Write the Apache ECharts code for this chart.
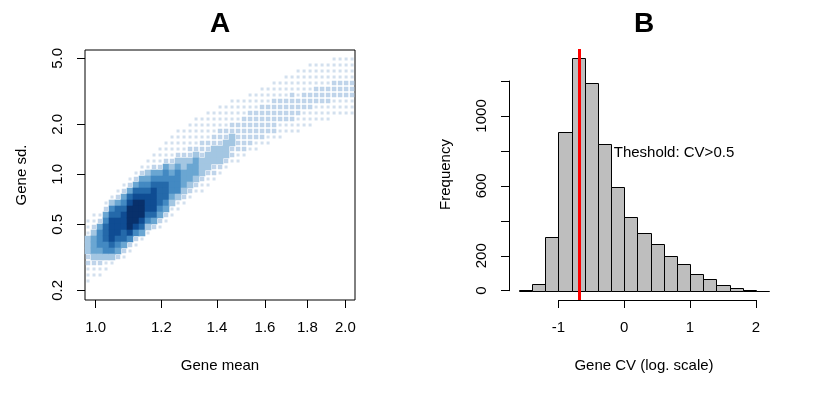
<!DOCTYPE html>
<html>
<head>
<meta charset="utf-8">
<script src="https://cdn.jsdelivr.net/npm/echarts@6/dist/echarts.min.js"></script>
<style>
  html, body { margin: 0; padding: 0; background: #fff; }
  #chart { width: 821px; height: 395px; }
</style>
</head>
<body>
<div id="chart"></div>
<script>
// ---- panel A : gene mean vs gene sd, both on log10, density binned into cells
var gridX0 = -0.0129, gridDx = 0.007236;   // log10(mean) of left edge, cell width
var gridY1 = 0.749, gridDy = 0.036153;     // log10(sd) of top edge, cell height
// one entry per column (left -> right): [first row from top, density levels going down]
var densityCols = [
  [28, '11133322111'],
  [27, '11234443211'],
  [27, '12455543211'],
  [25, '124566655311'],
  [24, '135677776531'],
  [23, '124667776542'],
  [22, '1245677766421'],
  [21, '1246788887521'],
  [20, '1246788887521'],
  [19, '1245678887641'],
  [18, '1134567776531'],
  [17, '1124567777642'],
  [16, '11124566665421'],
  [15, '11124556665421'],
  [14, '11112345554311'],
  [13, '11112345555311'],
  [13, '1111233444321'],
  [12, '1111223444321'],
  [11, '1111123444321'],
  [11, '1111222333211'],
  [10, '1111122333211'],
  [10, '111122333221'],
  [9, '111122233321'],
  [9, '11112233321'],
  [8, '11112233221'],
  [8, '11112222211'],
  [8, '1112222221'],
  [7, '1112222221'],
  [7, '1112222211'],
  [6, '1112222221'],
  [6, '1112222211'],
  [5, '1112222221'],
  [5, '1112222111'],
  [4, '1111222211'],
  [4, '1112222211'],
  [3, '11111222111'],
  [3, '1111222111'],
  [2, '11111222111'],
  [2, '1111222111'],
  [2, '1111222111'],
  [2, '1111222111'],
  [1, '1111222111'],
  [1, '1111222111'],
  [1, '1111222111'],
  [1, '1111222111']
];
var meanTicks = [1.0, 1.2, 1.4, 1.6, 1.8, 2.0];
var sdTicks = [0.2, 0.5, 1, 2, 5];

// ---- panel B : histogram of log CV
var cvBreaks = [-1.6, -1.4, -1.2, -1.0, -0.8, -0.6, -0.4, -0.2, 0, 0.2, 0.4, 0.6, 0.8, 1.0, 1.2, 1.4, 1.6, 1.8, 2.0, 2.2];
var cvCounts = [6, 39, 310, 906, 1330, 1187, 837, 596, 419, 332, 269, 200, 154, 96, 69, 33, 17, 5, 0];
var freqTicks = [0, 200, 400, 600, 800, 1000, 1200];
var freqLabels = [0, 200, 600, 1000];
var cvTicks = [-1, 0, 1, 2];
var cvCutoff = Math.log(0.5);
var cutoffText = 'Theshold: CV>0.5';
var cutoffTextAt = [-0.16, 790];

var levelColors = [null, '#d3e0ee', '#bfd4ea', '#a3c6e2', '#6aa6d2', '#4389c2', '#2469aa', '#0f4c93', '#08306b'];
var levelSize = [0, 3, 4.5, 6.6, 6.6, 6.6, 6.6, 6.6, 6.6];
var FONT = '"Liberation Sans", Arial, sans-serif';

var cells = [];
densityCols.forEach(function (col, c) {
  var levels = col[1];
  for (var k = 0; k < levels.length; k++) {
    var v = +levels[k];
    if (!v) continue;
    var r = col[0] + k;
    cells.push([gridX0 + (c + 0.5) * gridDx, gridY1 - (r + 0.5) * gridDy, v]);
  }
});
var bins = cvCounts.map(function (n, i) { return [cvBreaks[i], cvBreaks[i + 1], n]; });
var log10 = function (v) { return Math.log(v) / Math.LN10; };

var txt = { color: '#000', fontSize: 15, fontFamily: FONT };
var hidden = { axisLine: { show: false }, axisTick: { show: false }, axisLabel: { show: false }, splitLine: { show: false } };

var myChart = echarts.init(document.getElementById('chart'));
var option = {
  backgroundColor: '#fff',
  animation: false,
  textStyle: { fontFamily: FONT },
  grid: [
    { left: 85, top: 50, width: 270, height: 250, show: true, borderColor: '#000', borderWidth: 1, backgroundColor: 'transparent' },
    { left: 509, top: 49, width: 270, height: 251 },
    { left: 509, top: 81, width: 270, height: 209.7 },
    { left: 558.5, top: 250, width: 197.3, height: 50 }
  ],
  xAxis: [
    {
      gridIndex: 0, type: 'value', min: -0.0129, max: 0.3126,
      axisLine: { show: false, onZero: false }, splitLine: { show: false },
      axisTick: { customValues: meanTicks.map(log10), length: 8, lineStyle: { color: '#000' } },
      axisLabel: { customValues: meanTicks.map(log10), margin: 20, formatter: function (v) { return Math.pow(10, v).toFixed(1); }, color: '#000', fontSize: 15, fontFamily: FONT },
      name: 'Gene mean', nameLocation: 'middle', nameGap: 58, nameTextStyle: txt
    },
    Object.assign({ gridIndex: 1, type: 'value', min: -1.752, max: 2.352,
      name: 'Gene CV (log. scale)', nameLocation: 'middle', nameGap: 58, nameTextStyle: txt }, hidden, { axisLine: { show: false, onZero: false } }),
    Object.assign({ gridIndex: 2, type: 'value', min: 0, max: 1, show: false }, hidden),
    {
      gridIndex: 3, type: 'value', min: -1, max: 2, interval: 1,
      axisLine: { onZero: false, lineStyle: { color: '#000', width: 1 } }, splitLine: { show: false },
      axisTick: { customValues: cvTicks, length: 8, lineStyle: { color: '#000' } },
      axisLabel: { customValues: cvTicks, margin: 20, color: '#000', fontSize: 15, fontFamily: FONT }
    }
  ],
  yAxis: [
    {
      gridIndex: 0, type: 'value', min: -0.7574, max: 0.749,
      axisLine: { show: false, onZero: false }, splitLine: { show: false },
      axisTick: { customValues: sdTicks.map(log10), length: 8, lineStyle: { color: '#000' } },
      axisLabel: { customValues: sdTicks.map(log10), rotate: 90, margin: 20, formatter: function (v) { return Math.pow(10, v).toFixed(1); }, color: '#000', fontSize: 15, fontFamily: FONT },
      name: 'Gene sd.', nameLocation: 'middle', nameGap: 56, nameRotate: 90, nameTextStyle: txt
    },
    Object.assign({ gridIndex: 1, type: 'value', min: -53.2, max: 1383.2,
      name: 'Frequency', nameLocation: 'middle', nameGap: 56, nameRotate: 90, nameTextStyle: txt }, hidden, { axisLine: { show: false, onZero: false } }),
    {
      gridIndex: 2, type: 'value', min: 0, max: 1200, interval: 200,
      axisLine: { show: true, onZero: false, lineStyle: { color: '#000', width: 1 } }, splitLine: { show: false },
      axisTick: { customValues: freqTicks, length: 8, lineStyle: { color: '#000' } },
      axisLabel: { customValues: freqLabels, rotate: 90, margin: 20, formatter: function (v) { return String(v); }, color: '#000', fontSize: 15, fontFamily: FONT }
    },
    Object.assign({ gridIndex: 3, type: 'value', min: 0, max: 1, show: false }, hidden)
  ],
  series: [
    {
      type: 'scatter', xAxisIndex: 0, yAxisIndex: 0, silent: true,
      symbol: 'rect',
      symbolSize: function (val) { return levelSize[val[2]]; },
      itemStyle: { opacity: 1, color: function (p) { return levelColors[p.value[2]]; } },
      data: cells
    },
    {
      type: 'custom', xAxisIndex: 1, yAxisIndex: 1, silent: true,
      data: bins,
      renderItem: function (params, api) {
        var p0 = api.coord([api.value(0), 0]);
        var p1 = api.coord([api.value(1), api.value(2)]);
        var x0 = Math.round(p0[0]) + 0.5, x1 = Math.round(p1[0]) + 0.5;
        var yb = Math.round(p0[1]) + 0.5, yt = Math.round(p1[1]) + 0.5;
        return {
          type: 'rect',
          shape: { x: x0, y: yt, width: x1 - x0, height: yb - yt },
          style: { fill: '#bebebe', stroke: '#000', lineWidth: 1 }
        };
      },
      markLine: {
        silent: true, symbol: 'none', label: { show: false },
        lineStyle: { color: '#ff0000', width: 3, type: 'solid' },
        data: [{ xAxis: cvCutoff }]
      }
    }
  ]
};
myChart.setOption(option);

var tp = myChart.convertToPixel({ gridIndex: 1 }, cutoffTextAt);
myChart.setOption({
  graphic: [
    { type: 'text', x: 220, y: 24, style: { text: 'A', fill: '#000', font: 'bold 28px ' + FONT, textAlign: 'center', textVerticalAlign: 'middle' } },
    { type: 'text', x: 644, y: 24, style: { text: 'B', fill: '#000', font: 'bold 28px ' + FONT, textAlign: 'center', textVerticalAlign: 'middle' } },
    { type: 'text', x: tp[0], y: tp[1], style: { text: cutoffText, fill: '#000', font: '15px ' + FONT, textAlign: 'left', textVerticalAlign: 'middle' } }
  ]
});
</script>
</body>
</html>
